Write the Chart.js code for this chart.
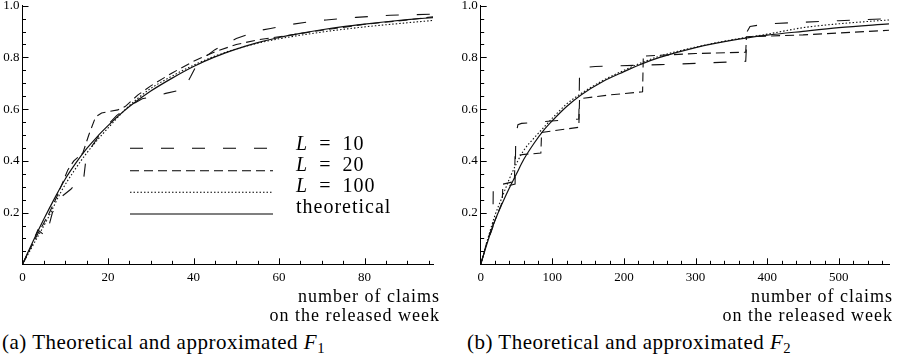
<!DOCTYPE html>
<html>
<head>
<meta charset="utf-8">
<script src="https://cdn.jsdelivr.net/npm/chart.js@4.4.1/dist/chart.umd.min.js"></script>
<style>
  body { margin: 0; background: #fff; }
  #page { position: relative; width: 919px; height: 360px; font-family: "Liberation Serif"; color: #000; overflow: hidden; }
  .box { position: absolute; top: 0; height: 290px; }
  .t { position: absolute; white-space: nowrap; }
  .axt { font-size: 18px; line-height: 19px; letter-spacing: 1px; text-align: right; top: 287px; }
  .cap { font-size: 21px; line-height: 24px; letter-spacing: 0.5px; top: 330px; }
  .leg { font-size: 20px; line-height: 22px; letter-spacing: 1px; word-spacing: 5px; left: 296px; }
  sub { font-size: 0.7em; vertical-align: -0.25em; line-height: 0; }
</style>
</head>
<body>
<div id="page">
  <div class="box" style="left:0; width:460px;"><canvas id="f1"></canvas></div>
  <div class="box" style="left:460px; width:459px;"><canvas id="f2"></canvas></div>

  <div class="t leg" style="top:132px;"><i>L</i> = 10</div>
  <div class="t leg" style="top:153px;"><i>L</i> = 20</div>
  <div class="t leg" style="top:174px;"><i>L</i> = 100</div>
  <div class="t leg" style="top:195px;">theoretical</div>

  <div class="t axt" style="right:479px;">number of claims<br>on the released week</div>
  <div class="t axt" style="right:26px;">number of claims<br>on the released week</div>

  <div class="t cap" style="left:2px;">(a) Theoretical and approximated <i>F</i><sub>1</sub></div>
  <div class="t cap" style="left:467px;">(b) Theoretical and approximated <i>F</i><sub>2</sub></div>
</div>
<script>
// ---- panel (a): F1 ----
var xTicksA = [0, 20, 40, 60, 80];
var yTicks = [0.2, 0.4, 0.6, 0.8, 1.0];

var thA_x = [0, 2.5, 5, 7.5, 10, 12.5, 15, 17.5, 20, 22.5, 25, 30, 35, 40, 45, 50, 55, 60, 65, 70, 75, 80, 85, 90, 96];
var thA_y = [0, 0.09, 0.175, 0.255, 0.33, 0.392, 0.447, 0.494, 0.536, 0.575, 0.61, 0.67, 0.72, 0.765, 0.802, 0.832, 0.857, 0.877, 0.893, 0.907, 0.919, 0.929, 0.938, 0.946, 0.954];

var l100A_x = [0, 3, 6, 9, 12, 15, 18, 21, 24, 27, 30, 35, 40, 45, 50, 55, 60, 70, 80, 90, 96];
var l100A_y = [0, 0.09, 0.18, 0.28, 0.36, 0.43, 0.49, 0.545, 0.598, 0.642, 0.68, 0.728, 0.77, 0.805, 0.833, 0.855, 0.872, 0.898, 0.918, 0.934, 0.943];

var l20A_x = [0, 3, 6, 8, 10.6, 12, 14.1, 15.5, 17.1, 18.5, 20, 22.3, 24, 27, 30, 35, 40, 45, 50, 55, 60, 70, 80, 90, 96];
var l20A_y = [0, 0.1, 0.19, 0.26, 0.365, 0.4, 0.43, 0.5, 0.57, 0.585, 0.59, 0.597, 0.61, 0.655, 0.69, 0.74, 0.785, 0.822, 0.85, 0.868, 0.88, 0.905, 0.928, 0.945, 0.957];

var l10A_x = [0, 2, 3.6, 5.5, 7, 9, 11.3, 11.8, 14.1, 14.3, 14.9, 16.4, 18, 20, 22, 25, 28, 30.4, 33.5, 36, 37.8, 39.3, 41, 45, 50, 55, 58, 63, 67, 71, 78, 86, 96];
var l10A_y = [0, 0.07, 0.133, 0.107, 0.2, 0.26, 0.29, 0.30, 0.313, 0.33, 0.416, 0.461, 0.5, 0.54, 0.575, 0.612, 0.64, 0.648, 0.661, 0.67, 0.68, 0.725, 0.78, 0.83, 0.873, 0.903, 0.912, 0.928, 0.938, 0.945, 0.955, 0.963, 0.967];

// ---- panel (b): F2 ----
var xTicksB = [0, 100, 200, 300, 400, 500];

var thB_x = [0, 10, 20, 30, 40, 50, 60, 75, 87, 100, 120, 140, 170, 200, 225, 250, 300, 350, 400, 450, 500, 570];
var thB_y = [0, 0.09, 0.17, 0.235, 0.295, 0.35, 0.405, 0.47, 0.515, 0.555, 0.61, 0.655, 0.706, 0.745, 0.775, 0.80, 0.838, 0.866, 0.886, 0.901, 0.915, 0.93];

var l100B_x = [0, 10, 20, 30, 40, 50, 60, 75, 90, 100, 120, 140, 170, 200, 225, 250, 300, 350, 400, 450, 500, 570];
var l100B_y = [0, 0.1, 0.19, 0.26, 0.33, 0.39, 0.44, 0.49, 0.535, 0.565, 0.62, 0.66, 0.71, 0.75, 0.78, 0.805, 0.84, 0.868, 0.89, 0.915, 0.93, 0.945];

var l20B_x = [0, 10, 20, 30, 31, 47, 48, 61, 84, 85, 137, 138, 180, 226, 227, 300, 370, 371, 450, 570];
var l20B_y = [0, 0.1, 0.17, 0.24, 0.31, 0.32, 0.42, 0.425, 0.43, 0.51, 0.53, 0.64, 0.655, 0.667, 0.805, 0.815, 0.82, 0.88, 0.887, 0.905];

var l10B_x = [0, 10, 17, 17.5, 30, 48, 49, 52, 57, 90, 137, 138, 142, 160, 250, 300, 370, 372, 376, 400, 500, 570];
var l10B_y = [0, 0.09, 0.145, 0.287, 0.298, 0.31, 0.5, 0.54, 0.545, 0.552, 0.562, 0.74, 0.76, 0.765, 0.772, 0.777, 0.785, 0.9, 0.92, 0.93, 0.942, 0.95];

function pts(xs, ys) { return xs.map(function (x, i) { return { x: x, y: ys[i] }; }); }

var DASH_L10 = [13, 18], DASH_L20 = [9, 5], DASH_L100 = [1.5, 2];

// ticks pointing into the plot, plus legend line samples
var inwardTicks = {
    id: 'inwardTicks',
    afterDraw: function (chart, args, opts) {
        var ctx = chart.ctx, xs = chart.scales.x, ys = chart.scales.y, a = chart.chartArea;
        var isMajor = function (list, v) { return list.some(function (m) { return Math.abs(m - v) < 1e-9; }); };
        var xMaj = xs.ticks.map(function (t) { return t.value; });
        var yMaj = ys.ticks.map(function (t) { return t.value; });
        ctx.save();
        ctx.strokeStyle = '#000';
        ctx.lineWidth = 1;
        ctx.beginPath();
        for (var i = 1; ; i++) {
            var v = i * opts.xMinor;
            if (v > xs.max + 1e-9) break;
            var px = Math.round(xs.getPixelForValue(v)) + 0.5;
            ctx.moveTo(px, a.bottom);
            ctx.lineTo(px, a.bottom - (isMajor(xMaj, v) ? 6 : 3.5));
        }
        for (var j = 1; ; j++) {
            var w = +(j * opts.yMinor).toFixed(4);
            if (w > ys.max + 1e-9) break;
            var py = Math.round(ys.getPixelForValue(w)) + 0.5;
            ctx.moveTo(a.left, py);
            ctx.lineTo(a.left + (isMajor(yMaj, w) ? 6 : 3.5), py);
        }
        ctx.stroke();
        if (opts.legend) {
            var L = opts.legend;
            chart.data.datasets.forEach(function (ds, k) {
                ctx.beginPath();
                ctx.setLineDash(ds.borderDash || []);
                ctx.lineWidth = ds.borderWidth;
                ctx.moveTo(L.x0, L.ys[k]);
                ctx.lineTo(L.x1, L.ys[k]);
                ctx.stroke();
            });
        }
        ctx.restore();
    }
};

function makeChart(id, series, xMax, xTicks, yAxisW, padRight, xMinor, legend) {
    var tickFont = { family: '"Liberation Serif"', size: 13 };
    return new Chart(document.getElementById(id), {
        type: 'scatter',
        data: {
            datasets: [
                { label: 'L = 10', data: series[0], borderDash: DASH_L10, borderWidth: 1.1, tension: 0 },
                { label: 'L = 20', data: series[1], borderDash: DASH_L20, borderWidth: 1.1, tension: 0 },
                { label: 'L = 100', data: series[2], borderDash: DASH_L100, borderWidth: 1.1, cubicInterpolationMode: 'monotone' },
                { label: 'theoretical', data: series[3], borderWidth: 1.2, cubicInterpolationMode: 'monotone' }
            ].map(function (d) {
                d.showLine = true; d.pointRadius = 0; d.borderColor = '#111'; d.fill = false;
                return d;
            })
        },
        options: {
            responsive: true,
            maintainAspectRatio: false,
            animation: false,
            layout: { padding: { top: 5.7, right: padRight, left: 0, bottom: 0 } },
            plugins: {
                legend: { display: false },
                tooltip: { enabled: false },
                inwardTicks: { xMinor: xMinor, yMinor: 0.05, legend: legend }
            },
            scales: {
                x: {
                    type: 'linear', min: 0, max: xMax,
                    grid: { display: false, drawTicks: false },
                    border: { display: true, color: '#000', width: 1 },
                    ticks: { font: tickFont, color: '#000', padding: 5, maxRotation: 0, autoSkip: false },
                    afterBuildTicks: function (s) { s.ticks = xTicks.map(function (v) { return { value: v }; }); },
                    afterFit: function (s) { s.height = 25.7; s.paddingLeft = 0; s.paddingRight = 0; }
                },
                y: {
                    type: 'linear', min: 0, max: 1,
                    grid: { display: false, drawTicks: false },
                    border: { display: true, color: '#000', width: 1 },
                    ticks: { font: tickFont, color: '#000', padding: 3, callback: function (v) { return v.toFixed(1); } },
                    afterBuildTicks: function (s) { s.ticks = yTicks.map(function (v) { return { value: v }; }); },
                    afterFit: function (s) { s.width = yAxisW; s.paddingTop = 0; s.paddingBottom = 0; }
                }
            }
        },
        plugins: [inwardTicks]
    });
}

makeChart('f1',
    [pts(l10A_x, l10A_y), pts(l20A_x, l20A_y), pts(l100A_x, l100A_y), pts(thA_x, thA_y)],
    96, xTicksA, 22.5, 27, 5,
    { x0: 130, x1: 273, ys: [148.3, 170.7, 192.3, 214] });

makeChart('f2',
    [pts(l10B_x, l10B_y), pts(l20B_x, l20B_y), pts(l100B_x, l100B_y), pts(thB_x, thB_y)],
    570, xTicksB, 20.7, 30, 20, null);
</script>
</body>
</html>
